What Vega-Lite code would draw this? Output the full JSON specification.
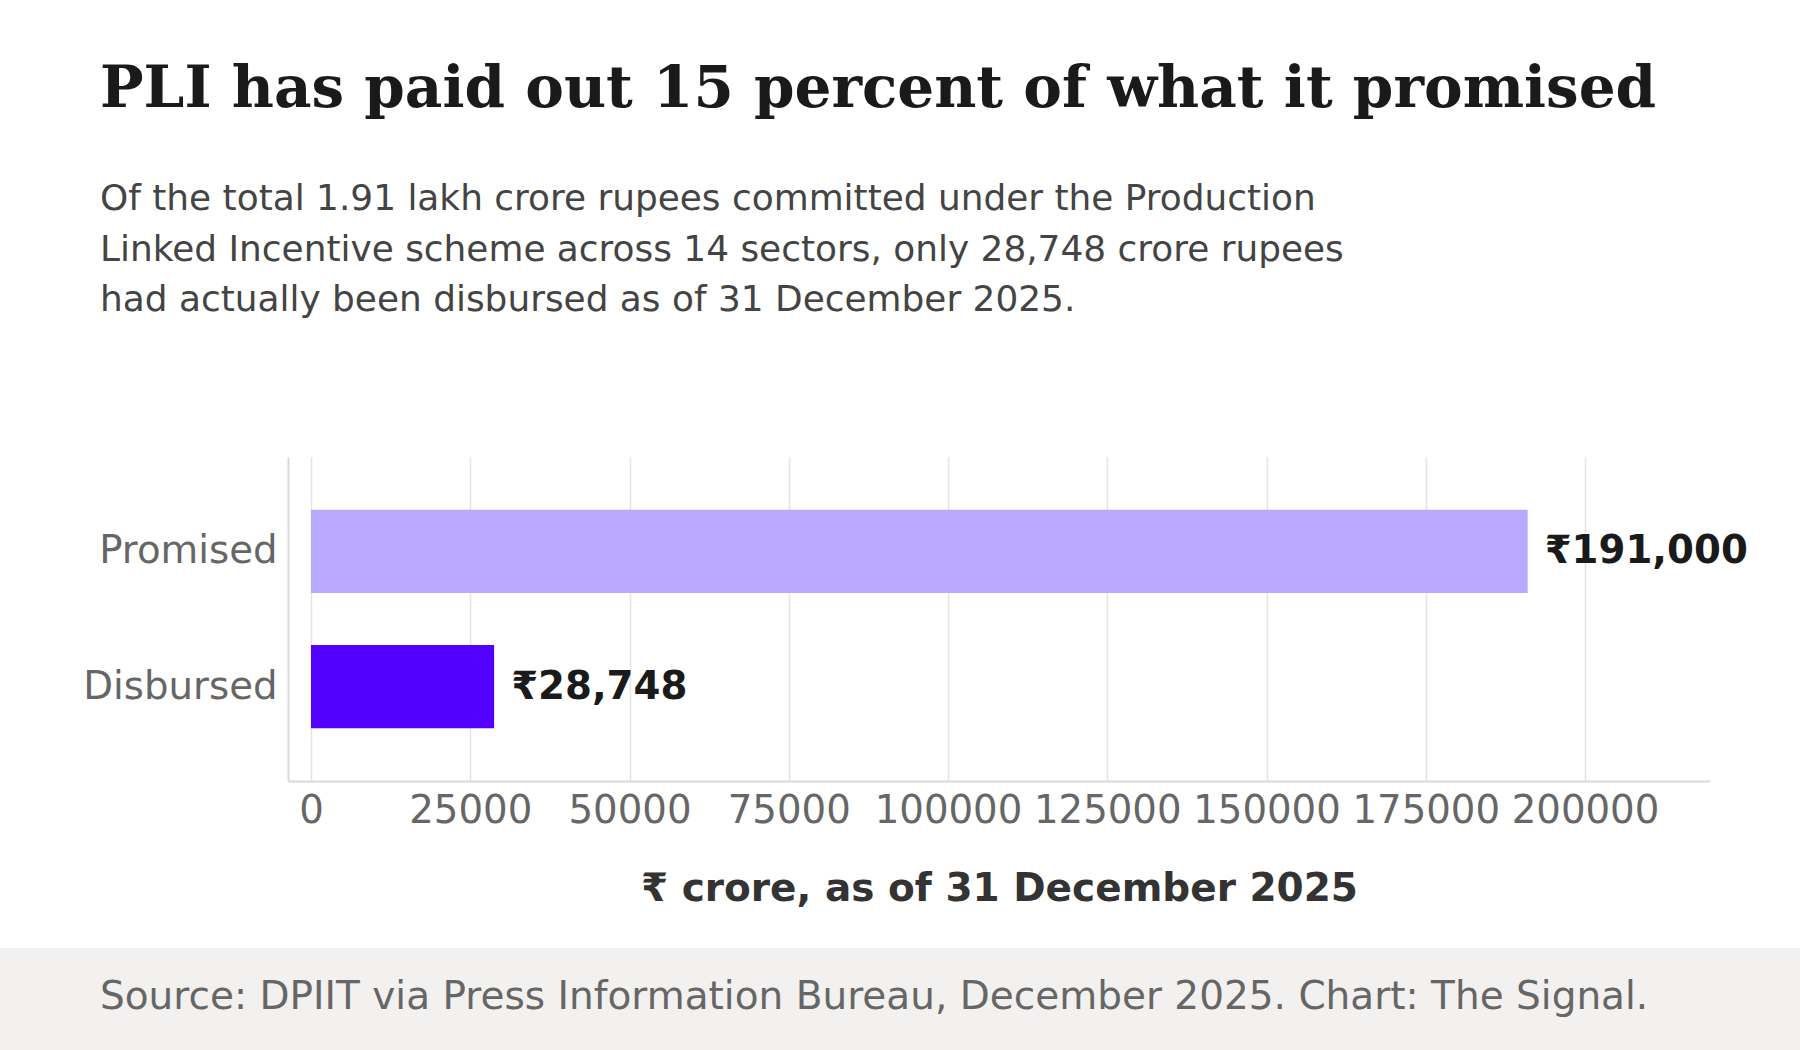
{
  "$schema": "https://vega.github.io/schema/vega-lite/v6.json",
  "background": "white",
  "padding": {"left": 0, "right": 0, "top": 61, "bottom": 0},
  "spacing": 39,
  "config": {"view": {"stroke": null}},
  "vconcat": [
    {
      "width": 1800,
      "height": 324,
      "title": {
        "text": "PLI has paid out 15 percent of what it promised",
        "subtitle": [
          "Of the total 1.91 lakh crore rupees committed under the Production",
          "Linked Incentive scheme across 14 sectors, only 28,748 crore rupees",
          "had actually been disbursed as of 31 December 2025."
        ],
        "anchor": "start",
        "frame": "group",
        "dx": 100,
        "offset": 139,
        "font": "DejaVu Serif",
        "fontSize": 58,
        "fontWeight": "bold",
        "color": "#1a1a1a",
        "subtitleFont": "DejaVu Sans",
        "subtitleFontSize": 35.9,
        "subtitleColor": "#444444",
        "subtitleLineHeight": 50.5,
        "subtitlePadding": 63
      },
      "data": {
        "values": [
          {"category": "Promised", "value": 191000, "label": "₹191,000"},
          {"category": "Disbursed", "value": 28748, "label": "₹28,748"}
        ]
      },
      "encoding": {
        "y": {
          "field": "category",
          "type": "nominal",
          "sort": ["Promised", "Disbursed"],
          "scale": {"paddingInner": 0.385, "paddingOuter": 0.39},
          "axis": {
            "title": null,
            "offset": -288,
            "labelFont": "DejaVu Sans",
            "labelFontSize": 38.7,
            "labelColor": "#666666",
            "labelPadding": 11,
            "labelLimit": 400,
            "ticks": false,
            "grid": false,
            "domain": true,
            "domainColor": "#dcdad5",
            "domainWidth": 2
          }
        },
        "x": {
          "field": "value",
          "type": "quantitative",
          "scale": {"domain": [-3611, 219623], "range": [288, 1710], "nice": false, "zero": false},
          "axis": {
            "values": [0, 25000, 50000, 75000, 100000, 125000, 150000, 175000, 200000],
            "format": "d",
            "title": "₹ crore, as of 31 December 2025",
            "titleFont": "DejaVu Sans",
            "titleFontSize": 39,
            "titleFontWeight": "bold",
            "titleColor": "#333333",
            "titlePadding": 40,
            "labelFont": "DejaVu Sans",
            "labelFontSize": 38.7,
            "labelColor": "#666666",
            "labelPadding": 10,
            "labelOverlap": false,
            "ticks": false,
            "grid": true,
            "gridColor": "#e6e4e0",
            "gridWidth": 1.5,
            "domain": true,
            "domainColor": "#dcdad5",
            "domainWidth": 2
          }
        }
      },
      "layer": [
        {
          "mark": {"type": "bar"},
          "encoding": {
            "color": {
              "field": "category",
              "type": "nominal",
              "scale": {"domain": ["Promised", "Disbursed"], "range": ["#b8a9ff", "#5200ff"]},
              "legend": null
            }
          }
        },
        {
          "mark": {
            "type": "text",
            "align": "left",
            "baseline": "middle",
            "dx": 17,
            "font": "DejaVu Sans",
            "fontWeight": "bold",
            "fontSize": 38.7,
            "color": "#1a1a1a"
          },
          "encoding": {"text": {"field": "label"}}
        }
      ]
    },
    {
      "width": 1800,
      "height": 103,
      "view": {"fill": "#f2f1ef", "stroke": null},
      "title": {
        "text": "Source: DPIIT via Press Information Bureau, December 2025. Chart: The Signal.",
        "anchor": "start",
        "frame": "group",
        "dx": 100,
        "offset": -69.2,
        "font": "DejaVu Sans",
        "fontSize": 39,
        "fontWeight": "normal",
        "color": "#666666"
      },
      "data": {"values": []},
      "mark": {"type": "text"},
      "encoding": {}
    }
  ]
}
